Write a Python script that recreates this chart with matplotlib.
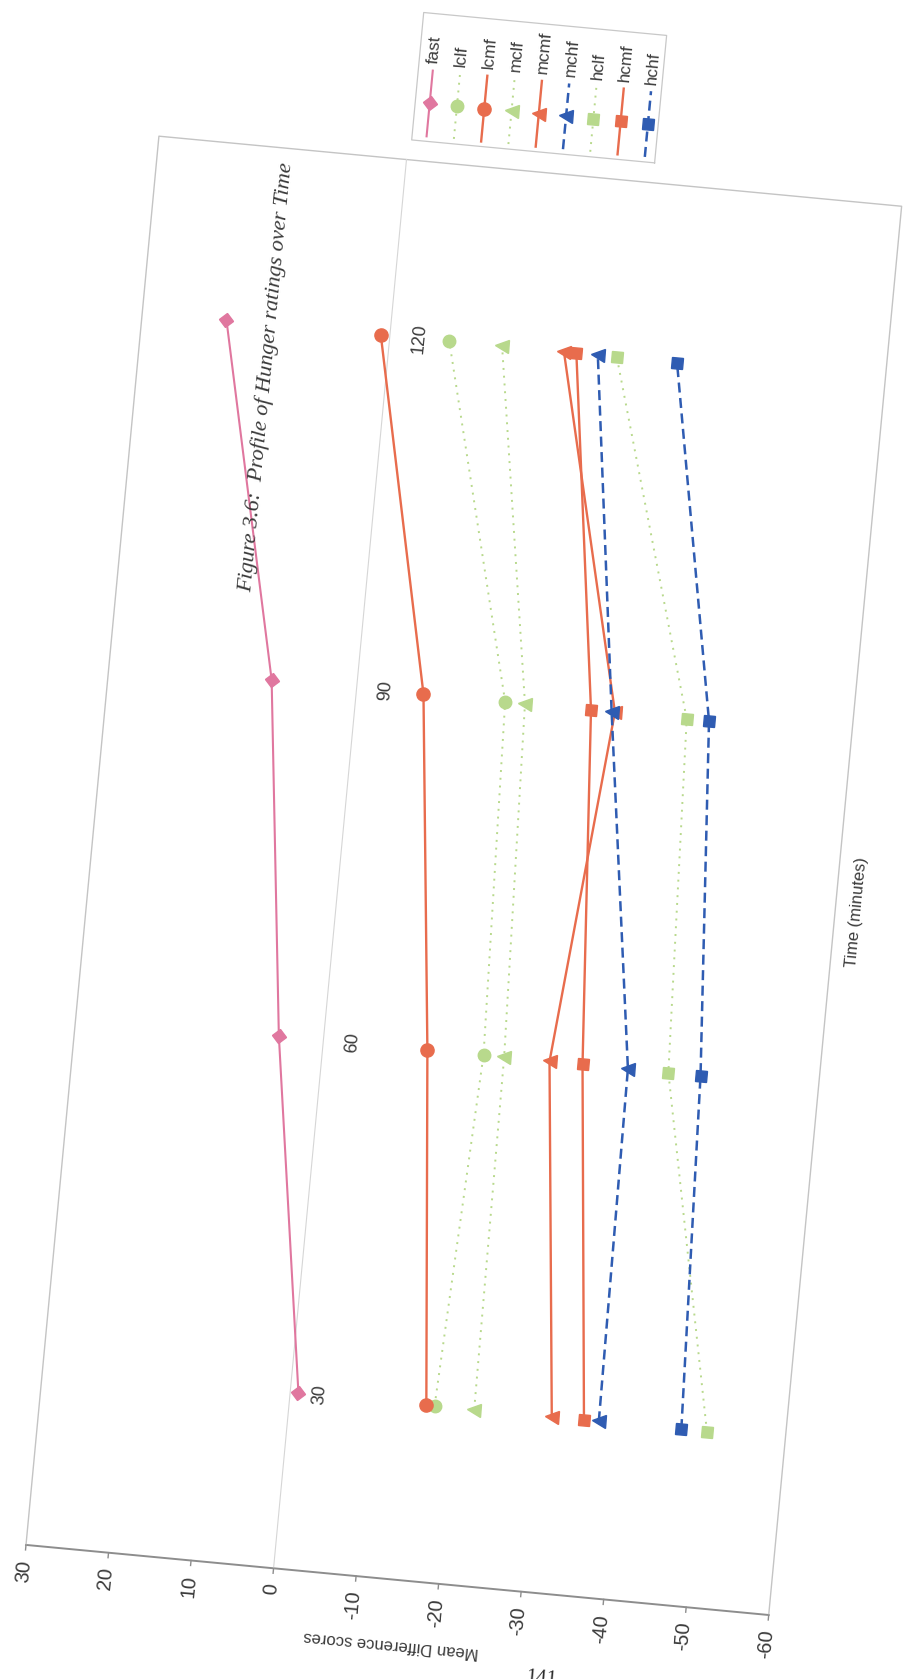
import matplotlib
matplotlib.use("Agg")
import matplotlib.pyplot as plt
from matplotlib.transforms import Affine2D
from matplotlib.markers import MarkerStyle
import numpy as np

plt.rcParams['font.family'] = ['Liberation Sans', 'DejaVu Sans']

# ---------------- data ----------------
times = [30, 60, 90, 120]
time_labels = ["30", "60", "90", "120"]
score_ticks = [30, 20, 10, 0, -10, -20, -30, -40, -50, -60]
series = ["fast", "lclf", "lcmf", "mclf", "mcmf", "mchf", "hclf", "hcmf", "hchf"]
fast = [-1.0, 5.4, 10.3, 19.8]
lclf = [-17.5, -19.4, -18.0, -7.2]
lcmf = [-16.5, -12.6, -8.1, 1.1]
mclf = [-22.3, -21.9, -20.4, -13.6]
mcmf = [-31.7, -27.4, -31.3, -21.1]
mchf = [-37.4, -36.9, -30.9, -25.2]
hclf = [-50.5, -41.8, -40.0, -27.5]
hcmf = [-35.6, -31.4, -28.4, -22.6]
hchf = [-47.4, -45.7, -42.7, -34.8]
values = {"fast": fast, "lclf": lclf, "lcmf": lcmf, "mclf": mclf, "mcmf": mcmf,
          "mchf": mchf, "hclf": hclf, "hcmf": hcmf, "hchf": hchf}

title = "Figure 3.6:  Profile of Hunger ratings over Time"
xlabel = "Time (minutes)"
ylabel = "Mean Difference scores"
page_no = "141"

# ---------------- styles ----------------
PINK = "#e0779f"
ORANGE = "#e86c4d"
GREEN = "#b8d98c"
BLUE = "#2f5cb2"
DOT = (1, 3)
DASH = (4, 2.2)
styles = {
    "fast": dict(color=PINK, lw=1.5, marker="D", ms=7),
    "lclf": dict(color=GREEN, lw=1.4, dashes=DOT, marker="o", ms=9),
    "lcmf": dict(color=ORANGE, lw=1.7, marker="o", ms=9.5),
    "mclf": dict(color=GREEN, lw=1.4, dashes=DOT, marker="^", ms=9.5),
    "mcmf": dict(color=ORANGE, lw=1.7, marker="^", ms=9.5),
    "mchf": dict(color=BLUE, lw=1.8, dashes=DASH, marker="^", ms=9.5),
    "hclf": dict(color=GREEN, lw=1.4, dashes=DOT, marker="s", ms=8.5),
    "hcmf": dict(color=ORANGE, lw=1.7, marker="s", ms=8.5),
    "hchf": dict(color=BLUE, lw=1.8, dashes=DASH, marker="s", ms=8.5),
}

# ---------------- geometry of the (tilted, rotated) scan ----------------
TILT = 5.39
ROT = 90 - TILT
ct, st = np.cos(np.radians(TILT)), np.sin(np.radians(TILT))
T_MIN, T_MAX = 15, 135
S_MIN, S_MAX = -60, 30
W_T, W_S = 1415.0, 746.0
ORIGIN = (768.7, 1615.0)

fig = plt.figure(figsize=(9.15, 16.79), dpi=100)
ax = fig.add_axes([0, 0, 1, 1])
ax.set_xlim(0, 915)
ax.set_ylim(1679, 0)
ax.axis("off")

data2loc = Affine2D().translate(-T_MIN, -S_MIN).scale(W_T / (T_MAX - T_MIN), W_S / (S_MAX - S_MIN))
loc2img = Affine2D.from_values(st, -ct, -ct, -st, ORIGIN[0], ORIGIN[1])
tr_loc = loc2img + ax.transData
tr_data = data2loc + tr_loc


def mk(m):
    return MarkerStyle(m, transform=Affine2D().rotate_deg(ROT))


TXT = "#3a3a3a"

# frame
ax.plot([T_MIN, T_MIN], [S_MIN, S_MAX], transform=tr_data, color="#8d8d8d", lw=1.4, clip_on=False)
ax.plot([T_MIN, T_MAX, T_MAX, T_MIN], [S_MAX, S_MAX, S_MIN, S_MIN], transform=tr_data,
        color="#c4c4c4", lw=1.0, clip_on=False)
ax.plot([T_MIN, T_MAX], [0, 0], transform=tr_data, color="#d6d6d6", lw=0.8, clip_on=False)

# score axis ticks and labels
for v in score_ticks:
    lx, ly = data2loc.transform((T_MIN, v))
    ax.plot([lx, lx - 5], [ly, ly], transform=tr_loc, color="#8d8d8d", lw=1.0, clip_on=False)
    ax.text(lx - 15, ly, str(v), transform=tr_loc, rotation=ROT, rotation_mode="anchor",
            ha="right", va="center", fontsize=14.5, color=TXT)

# time labels along the zero line
for t, lab in zip(times, time_labels):
    lx, ly = data2loc.transform((t, 0))
    ax.text(lx, ly - 21, lab, transform=tr_loc, rotation=ROT, rotation_mode="anchor",
            ha="center", va="top", fontsize=13, color=TXT)

# series
for name in series:
    s = dict(styles[name])
    m = s.pop("marker")
    ax.plot(times, values[name], transform=tr_data, marker=mk(m), mec=s["color"],
            mfc=s["color"], clip_on=False, **s)

# axis titles
lx, ly = data2loc.transform((T_MIN, (S_MIN + S_MAX) / 2))
ax.text(-65, ly, ylabel, transform=tr_loc, rotation=ROT + 90, rotation_mode="anchor",
        ha="center", va="center", fontsize=12, color=TXT)
lx, ly = data2loc.transform(((T_MIN + T_MAX) / 2, S_MIN))
ax.text(lx, -22, xlabel, transform=tr_loc, rotation=ROT, rotation_mode="anchor",
        ha="center", va="center", fontsize=12, color=TXT)

# legend (right of the plot in chart frame)
LX0, LX1, LY0, LY1 = 1435, 1563, 250, 494
ax.plot([LX0, LX1, LX1, LX0, LX0], [LY0, LY0, LY1, LY1, LY0], transform=tr_loc,
        color="#c8c8c8", lw=0.9, clip_on=False)
for i, name in enumerate(series):
    y = 479.5 - i * 27.4
    s = dict(styles[name])
    m = s.pop("marker")
    ax.plot([1440, 1473, 1506], [y, y, y], transform=tr_loc, marker=mk(m), markevery=[1],
            mec=s["color"], mfc=s["color"], clip_on=False, **s)
    ax.text(1513, y, name, transform=tr_loc, rotation=ROT, rotation_mode="anchor",
            ha="left", va="center", fontsize=12.5, color=TXT)

# page title and page number
ax.text(266, 377, title, rotation=ROT, rotation_mode="anchor", ha="center", va="center",
        family=["Liberation Serif", "DejaVu Serif"], style="italic", fontsize=16, color="#3a3a3a")
ax.text(541, 1668, page_no, rotation=-TILT, ha="center", va="top",
        family=["Liberation Serif", "DejaVu Serif"], fontsize=15, color="#2a2a2a")

fig.savefig("out.png", dpi=100, facecolor="white")
